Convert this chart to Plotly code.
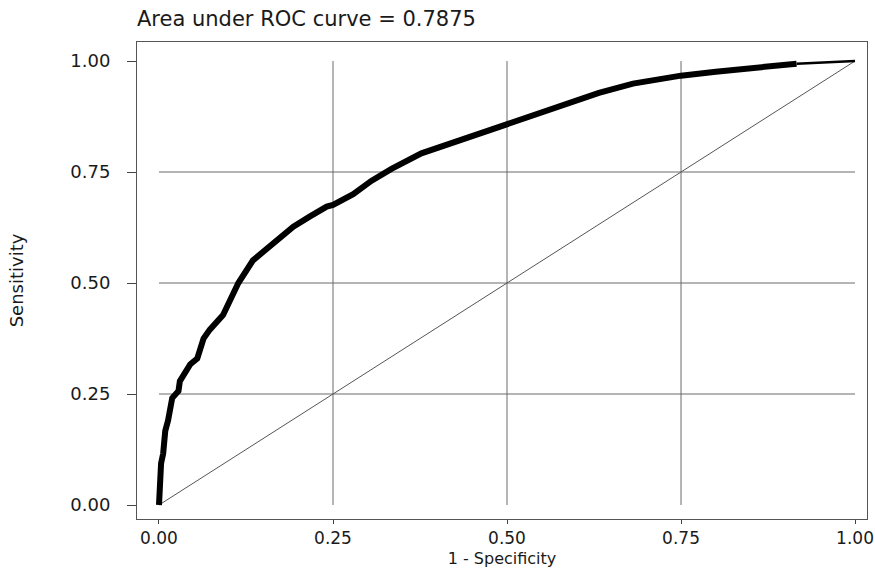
import plotly.graph_objects as go

# ROC curve points
fpr = [0.0, 0.003, 0.006, 0.009, 0.013, 0.019, 0.028, 0.03, 0.045, 0.055, 0.064, 0.073,
       0.092, 0.114, 0.135, 0.164, 0.193, 0.217, 0.241, 0.25, 0.279, 0.305, 0.334, 0.377,
       0.425, 0.5, 0.575, 0.632, 0.681, 0.75, 0.80, 0.863, 0.916, 1.0]
tpr = [0.0, 0.094, 0.116, 0.167, 0.19, 0.241, 0.257, 0.279, 0.317, 0.33, 0.375, 0.395,
       0.428, 0.5, 0.551, 0.589, 0.627, 0.65, 0.672, 0.676, 0.70, 0.73, 0.757, 0.792,
       0.817, 0.859, 0.895, 0.928, 0.949, 0.967, 0.976, 0.985, 0.994, 1.0]
thick_end = 0.916  # thick part of the curve ends here

ref_x = [0, 1]
ref_y = [0, 1]

tick_vals = [0, 0.25, 0.5, 0.75, 1]
tick_text = ["0.00", "0.25", "0.50", "0.75", "1.00"]
grid_vals = [0.25, 0.5, 0.75]

title_text = "Area under ROC curve = 0.7875"
x_title = "1 - Specificity"
y_title = "Sensitivity"

FONT = "DejaVu Sans"
INK = "#1a1a1a"

fig = go.Figure()

n_thick = sum(1 for v in fpr if v <= thick_end)
fig.add_trace(go.Scatter(x=ref_x, y=ref_y, mode="lines",
                         line=dict(color="#555555", width=1), showlegend=False))
fig.add_trace(go.Scatter(x=fpr[:n_thick], y=tpr[:n_thick], mode="lines",
                         line=dict(color="black", width=6), showlegend=False))
fig.add_trace(go.Scatter(x=fpr[n_thick - 1:], y=tpr[n_thick - 1:], mode="lines",
                         line=dict(color="black", width=2.5), showlegend=False))

shapes = []
for g in grid_vals:
    shapes.append(dict(type="line", xref="x", yref="y", x0=g, x1=g, y0=0, y1=1,
                       line=dict(color="#6a6a6a", width=1), layer="below"))
    shapes.append(dict(type="line", xref="x", yref="y", x0=0, x1=1, y0=g, y1=g,
                       line=dict(color="#6a6a6a", width=1), layer="below"))

fig.update_layout(
    width=875, height=568,
    margin=dict(l=137, r=8, t=42, b=49),
    paper_bgcolor="white", plot_bgcolor="white",
    font=dict(family=FONT, color=INK, size=18),
    shapes=shapes,
    title=dict(text=title_text, x=0, xref="paper", xanchor="left",
               y=1 - 19 / 568, yref="container", yanchor="middle",
               font=dict(family=FONT, size=21, color=INK)),
    xaxis=dict(range=[-0.0316, 1.0172], tickvals=tick_vals, ticktext=tick_text,
               showgrid=False, zeroline=False, ticks="outside", ticklen=4,
               tickcolor="#444444", showline=True, linecolor="#555555", linewidth=1,
               mirror=True, tickfont=dict(size=17), ticklabelstandoff=0,
               ticklabeloverflow="allow", automargin=False,
               title=dict(text=x_title, font=dict(size=16), standoff=5)),
    yaxis=dict(range=[-0.0315, 1.0428], tickvals=tick_vals, ticktext=tick_text,
               showgrid=False, zeroline=False, ticks="outside", ticklen=9,
               tickcolor="#444444", showline=True, linecolor="#555555", linewidth=1,
               mirror=True, tickfont=dict(size=18), ticklabelstandoff=13,
               automargin=False,
               title=dict(text=y_title, font=dict(size=18), standoff=42)),
)

fig.write_html("out.html", config={"displayModeBar": False},
               post_script="document.body.style.margin='0';document.body.style.overflow='hidden';")
